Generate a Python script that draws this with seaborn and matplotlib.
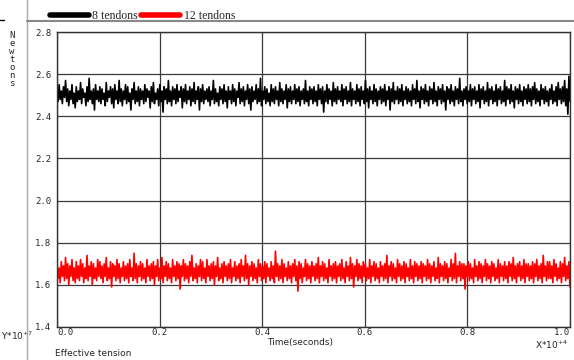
import numpy as np
import pandas as pd
import matplotlib
matplotlib.use("Agg")
import matplotlib.pyplot as plt
from matplotlib.lines import Line2D
from matplotlib.ticker import MultipleLocator
import seaborn as sns

# ==============================
# Dados (tensão efetiva, x10^7 N)
# ==============================
tension_8 = [
    2.53, 2.47, 2.55, 2.48, 2.52, 2.46, 2.54, 2.49, 2.57, 2.47, 2.53, 2.45, 2.52, 2.48, 2.55, 2.46, 2.51, 2.44, 2.54, 2.47,
    2.52, 2.48, 2.56, 2.46, 2.53, 2.49, 2.51, 2.45, 2.54, 2.47, 2.58, 2.48, 2.52, 2.46, 2.53, 2.43, 2.55, 2.48, 2.52, 2.47,
    2.54, 2.46, 2.53, 2.48, 2.51, 2.45, 2.56, 2.47, 2.52, 2.49, 2.54, 2.46, 2.53, 2.44, 2.55, 2.48, 2.52, 2.46, 2.57, 2.47,
    2.53, 2.45, 2.52, 2.48, 2.55, 2.46, 2.54, 2.47, 2.51, 2.43, 2.53, 2.48, 2.56, 2.46, 2.52, 2.47, 2.54, 2.45, 2.53, 2.48,
    2.52, 2.46, 2.55, 2.47, 2.53, 2.49, 2.52, 2.44, 2.54, 2.47, 2.56, 2.46, 2.51, 2.48, 2.53, 2.45, 2.55, 2.47, 2.52, 2.42,
    2.54, 2.48, 2.53, 2.46, 2.57, 2.47, 2.52, 2.45, 2.54, 2.48, 2.53, 2.46, 2.55, 2.47, 2.52, 2.49, 2.54, 2.44, 2.53, 2.47,
    2.55, 2.46, 2.52, 2.48, 2.54, 2.45, 2.53, 2.47, 2.56, 2.46, 2.52, 2.48, 2.54, 2.43, 2.53, 2.47, 2.55, 2.46, 2.52, 2.48,
    2.53, 2.47, 2.54, 2.45, 2.52, 2.48, 2.57, 2.46, 2.53, 2.47, 2.51, 2.45, 2.54, 2.48, 2.53, 2.46, 2.55, 2.47, 2.52, 2.44,
    2.54, 2.48, 2.52, 2.46, 2.55, 2.47, 2.53, 2.45, 2.52, 2.49, 2.56, 2.46, 2.53, 2.47, 2.54, 2.45, 2.52, 2.48, 2.55, 2.46,
    2.53, 2.43, 2.54, 2.47, 2.52, 2.48, 2.55, 2.46, 2.53, 2.47, 2.58, 2.45, 2.52, 2.48, 2.54, 2.46, 2.53, 2.47, 2.51, 2.45,
    2.55, 2.47, 2.53, 2.46, 2.54, 2.48, 2.52, 2.45, 2.56, 2.47, 2.53, 2.46, 2.52, 2.48, 2.55, 2.44, 2.53, 2.47, 2.54, 2.46,
    2.52, 2.48, 2.55, 2.46, 2.53, 2.47, 2.54, 2.45, 2.52, 2.48, 2.53, 2.46, 2.57, 2.47, 2.52, 2.45, 2.54, 2.48, 2.53, 2.46,
    2.54, 2.47, 2.52, 2.45, 2.55, 2.48, 2.53, 2.46, 2.54, 2.42, 2.52, 2.47, 2.55, 2.46, 2.53, 2.48, 2.52, 2.45, 2.56, 2.47,
    2.53, 2.46, 2.54, 2.48, 2.52, 2.47, 2.55, 2.45, 2.53, 2.48, 2.54, 2.46, 2.52, 2.47, 2.56, 2.45, 2.53, 2.48, 2.52, 2.46,
    2.55, 2.47, 2.53, 2.45, 2.54, 2.48, 2.52, 2.46, 2.57, 2.47, 2.53, 2.44, 2.54, 2.48, 2.52, 2.46, 2.55, 2.47, 2.53, 2.45,
    2.52, 2.48, 2.54, 2.46, 2.53, 2.47, 2.55, 2.45, 2.52, 2.48, 2.54, 2.43, 2.53, 2.47, 2.56, 2.46, 2.52, 2.48, 2.54, 2.46,
    2.53, 2.47, 2.55, 2.45, 2.52, 2.48, 2.54, 2.46, 2.53, 2.47, 2.52, 2.45, 2.55, 2.48, 2.53, 2.46, 2.57, 2.47, 2.52, 2.44,
    2.54, 2.48, 2.53, 2.46, 2.55, 2.47, 2.52, 2.45, 2.54, 2.48, 2.53, 2.46, 2.56, 2.47, 2.52, 2.45, 2.54, 2.48, 2.53, 2.46,
    2.55, 2.47, 2.52, 2.43, 2.54, 2.48, 2.53, 2.46, 2.55, 2.47, 2.52, 2.45, 2.54, 2.48, 2.53, 2.46, 2.58, 2.47, 2.52, 2.45,
    2.53, 2.48, 2.54, 2.46, 2.52, 2.47, 2.55, 2.45, 2.53, 2.48, 2.54, 2.46, 2.52, 2.47, 2.55, 2.44, 2.53, 2.48, 2.54, 2.46,
    2.52, 2.47, 2.56, 2.45, 2.53, 2.48, 2.54, 2.46, 2.52, 2.47, 2.55, 2.45, 2.53, 2.48, 2.54, 2.46, 2.52, 2.47, 2.57, 2.45,
    2.54, 2.48, 2.53, 2.46, 2.55, 2.47, 2.52, 2.44, 2.54, 2.48, 2.53, 2.46, 2.55, 2.47, 2.52, 2.45, 2.54, 2.48, 2.53, 2.46,
    2.55, 2.47, 2.53, 2.45, 2.54, 2.48, 2.56, 2.46, 2.53, 2.47, 2.52, 2.45, 2.55, 2.48, 2.53, 2.46, 2.54, 2.47, 2.52, 2.45,
    2.53, 2.48, 2.55, 2.46, 2.52, 2.47, 2.54, 2.45, 2.56, 2.48, 2.53, 2.46, 2.54, 2.47, 2.57, 2.45, 2.53, 2.41, 2.59, 2.47,
]

tension_12 = [
    1.70, 1.63, 1.68, 1.61, 1.71, 1.64, 1.69, 1.62, 1.73, 1.63, 1.70, 1.60, 1.69, 1.64, 1.72, 1.62, 1.68, 1.61, 1.71, 1.63,
    1.69, 1.62, 1.72, 1.64, 1.70, 1.61, 1.68, 1.63, 1.74, 1.62, 1.69, 1.64, 1.71, 1.60, 1.70, 1.63, 1.68, 1.62, 1.72, 1.64,
    1.71, 1.63, 1.69, 1.61, 1.70, 1.64, 1.73, 1.62, 1.68, 1.63, 1.71, 1.59, 1.70, 1.64, 1.69, 1.62, 1.72, 1.63, 1.70, 1.61,
    1.68, 1.64, 1.71, 1.62, 1.69, 1.63, 1.70, 1.61, 1.72, 1.64, 1.68, 1.62, 1.75, 1.63, 1.70, 1.61, 1.69, 1.64, 1.71, 1.62,
    1.70, 1.63, 1.68, 1.61, 1.72, 1.64, 1.69, 1.62, 1.70, 1.63, 1.71, 1.60, 1.69, 1.64, 1.72, 1.62, 1.68, 1.63, 1.73, 1.61,
    1.69, 1.64, 1.71, 1.62, 1.70, 1.63, 1.68, 1.61, 1.72, 1.64, 1.69, 1.62, 1.71, 1.63, 1.70, 1.58, 1.69, 1.64, 1.72, 1.62,
    1.70, 1.63, 1.69, 1.61, 1.71, 1.64, 1.74, 1.62, 1.68, 1.63, 1.70, 1.61, 1.69, 1.64, 1.72, 1.62, 1.71, 1.63, 1.68, 1.61,
    1.72, 1.64, 1.69, 1.62, 1.70, 1.63, 1.71, 1.60, 1.69, 1.64, 1.73, 1.62, 1.68, 1.63, 1.70, 1.61, 1.71, 1.64, 1.69, 1.62,
    1.70, 1.63, 1.72, 1.61, 1.68, 1.64, 1.71, 1.62, 1.69, 1.63, 1.70, 1.61, 1.72, 1.64, 1.69, 1.62, 1.74, 1.63, 1.70, 1.60,
    1.69, 1.64, 1.71, 1.62, 1.70, 1.63, 1.68, 1.61, 1.72, 1.64, 1.70, 1.62, 1.69, 1.63, 1.71, 1.61, 1.70, 1.64, 1.68, 1.62,
    1.71, 1.63, 1.69, 1.61, 1.76, 1.64, 1.70, 1.62, 1.69, 1.63, 1.72, 1.61, 1.70, 1.64, 1.68, 1.62, 1.71, 1.63, 1.69, 1.61,
    1.70, 1.64, 1.72, 1.62, 1.69, 1.57, 1.71, 1.63, 1.70, 1.61, 1.68, 1.64, 1.72, 1.62, 1.70, 1.63, 1.69, 1.61, 1.71, 1.64,
    1.69, 1.62, 1.70, 1.63, 1.73, 1.61, 1.69, 1.64, 1.71, 1.62, 1.70, 1.63, 1.68, 1.61, 1.72, 1.64, 1.69, 1.62, 1.70, 1.63,
    1.71, 1.61, 1.69, 1.64, 1.70, 1.62, 1.72, 1.63, 1.68, 1.61, 1.71, 1.64, 1.69, 1.62, 1.73, 1.63, 1.70, 1.59, 1.69, 1.64,
    1.72, 1.62, 1.70, 1.63, 1.69, 1.61, 1.71, 1.64, 1.70, 1.62, 1.68, 1.63, 1.72, 1.61, 1.69, 1.64, 1.71, 1.62, 1.70, 1.63,
    1.68, 1.61, 1.71, 1.64, 1.69, 1.62, 1.70, 1.63, 1.74, 1.61, 1.69, 1.64, 1.71, 1.62, 1.70, 1.63, 1.68, 1.61, 1.72, 1.64,
    1.70, 1.62, 1.69, 1.63, 1.71, 1.61, 1.70, 1.64, 1.68, 1.62, 1.72, 1.63, 1.69, 1.61, 1.71, 1.64, 1.70, 1.62, 1.69, 1.63,
    1.71, 1.61, 1.70, 1.64, 1.69, 1.62, 1.72, 1.63, 1.70, 1.61, 1.69, 1.64, 1.71, 1.62, 1.68, 1.63, 1.73, 1.61, 1.70, 1.64,
    1.69, 1.62, 1.71, 1.63, 1.70, 1.61, 1.68, 1.64, 1.72, 1.62, 1.70, 1.63, 1.75, 1.61, 1.69, 1.64, 1.71, 1.62, 1.70, 1.63,
    1.70, 1.58, 1.69, 1.64, 1.71, 1.62, 1.70, 1.63, 1.68, 1.61, 1.72, 1.64, 1.69, 1.62, 1.71, 1.63, 1.70, 1.61, 1.69, 1.64,
    1.72, 1.62, 1.70, 1.63, 1.69, 1.61, 1.71, 1.64, 1.70, 1.62, 1.68, 1.63, 1.72, 1.61, 1.70, 1.64, 1.69, 1.62, 1.71, 1.63,
    1.69, 1.61, 1.71, 1.64, 1.70, 1.62, 1.73, 1.63, 1.69, 1.61, 1.70, 1.64, 1.71, 1.62, 1.69, 1.63, 1.72, 1.61, 1.70, 1.64,
    1.70, 1.62, 1.69, 1.63, 1.71, 1.61, 1.70, 1.64, 1.72, 1.62, 1.69, 1.63, 1.70, 1.61, 1.74, 1.64, 1.69, 1.62, 1.71, 1.63,
    1.71, 1.63, 1.69, 1.61, 1.72, 1.64, 1.70, 1.62, 1.68, 1.63, 1.71, 1.61, 1.70, 1.64, 1.73, 1.62, 1.69, 1.63, 1.71, 1.59,
]

series_labels = ["8 tendons", "12 tendons"]
series_colors = ["black", "red"]
x_ticks = [0.0, 0.2, 0.4, 0.6, 0.8, 1.0]
y_ticks = [1.4, 1.6, 1.8, 2.0, 2.2, 2.4, 2.6, 2.8]

# tempo de amostragem (x10^4 s), igualmente espaçado
time_8 = np.linspace(0, 1, len(tension_8))
time_12 = np.linspace(0, 1, len(tension_12))

df = pd.concat([
    pd.DataFrame({"time": time_8, "tension": tension_8, "case": series_labels[0]}),
    pd.DataFrame({"time": time_12, "tension": tension_12, "case": series_labels[1]}),
])

# ==============================
# Figura
# ==============================
sns.set_style("white")
plt.rcParams["font.family"] = ["DejaVu Sans"]

fig = plt.figure(figsize=(5.74, 3.6), dpi=100)
ax = fig.add_axes([57 / 574, 1 - 327 / 360, 513 / 574, 295 / 360])

sns.lineplot(data=df, x="time", y="tension", hue="case", palette=series_colors,
             linewidth=1.2, legend=False, ax=ax, estimator=None, sort=False)

ax.set_xlim(0, 1)
ax.set_ylim(1.4, 2.8)
ax.set_xticks(x_ticks)
ax.set_yticks(y_ticks)
ax.set_xticklabels([f"{v:.1f}" for v in x_ticks], fontsize=6.5, family="DejaVu Sans Mono")
ax.set_yticklabels([f"{v:.1f}" for v in y_ticks], fontsize=6.5, family="DejaVu Sans Mono")
xl = ax.get_xticklabels()
xl[0].set_ha("left")
xl[-1].set_ha("right")
ax.xaxis.set_minor_locator(MultipleLocator(0.1))
ax.yaxis.set_minor_locator(MultipleLocator(0.1))
ax.tick_params(which="both", direction="in", color="#222222", width=0.8)
ax.tick_params(which="major", length=0)
ax.tick_params(which="minor", length=4)
ax.tick_params(axis="x", pad=1)
ax.tick_params(axis="y", pad=4)
ax.set_xlabel("")
ax.set_ylabel("")
ax.grid(True, which="major", color="#3a3a3a", linewidth=0.9)
ax.set_axisbelow(True)
for s in ax.spines.values():
    s.set_color("#333333")
    s.set_linewidth(1)

# legenda no topo
handles = [Line2D([], [], color=c, lw=4) for c in series_colors]
leg = fig.legend(handles, series_labels, ncol=2, frameon=False, loc="center left",
                 bbox_to_anchor=(39 / 574, 1 - 16 / 360),
                 handlelength=3.3, handletextpad=0.3, columnspacing=0.3,
                 prop={"family": "Liberation Serif", "size": 8.5})

# linhas de moldura da janela
fig.add_artist(Line2D([27 / 574, 27 / 574], [0, 1], color="#aaaaaa", lw=1))
fig.add_artist(Line2D([27 / 574, 1], [1 - 21 / 360, 1 - 21 / 360], color="#888888", lw=1.5))
fig.add_artist(Line2D([0, 4 / 574], [1 - 20 / 360, 1 - 20 / 360], color="black", lw=1))

# rótulos
fig.text(12 / 574, 1 - 31 / 360, "N\ne\nw\nt\no\nn\ns", fontsize=6.5, family="DejaVu Sans Mono",
         va="top", ha="center", linespacing=0.85)
fig.text(300 / 574, 1 - 343 / 360, "Time(seconds)", fontsize=6.5, ha="center", va="center")
fig.text(1 / 574, 1 - 336 / 360, "Y*10$^{+7}$", fontsize=6.5, ha="left", va="center")
fig.text(535 / 574, 1 - 345 / 360, "X*10$^{+4}$", fontsize=6.5, ha="left", va="center")
fig.text(55 / 574, 1 - 354 / 360, "Effective tension", fontsize=6.5, ha="left", va="center")

fig.savefig("out.png", dpi=100)
